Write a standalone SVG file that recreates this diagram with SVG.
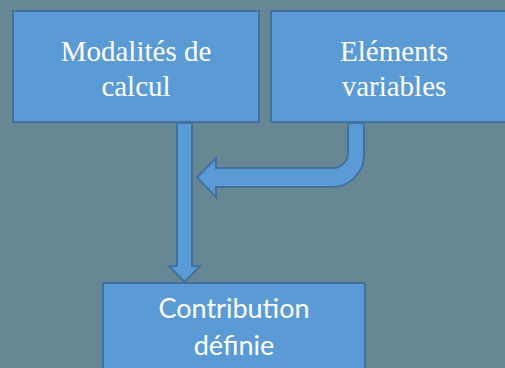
<svg xmlns="http://www.w3.org/2000/svg" width="505" height="368" viewBox="0 0 505 368">
<style>
.box{fill:#5b9bd5;stroke:#41719c;stroke-width:2}
.arr{fill:#5b9bd5;stroke:#41719c;stroke-width:2;stroke-linejoin:miter}
.tserif{font-family:'Liberation Serif','Times New Roman',serif;font-size:29px;fill:#ffffff;text-anchor:middle}
.tsans{font-family:Lato,'Open Sans','Liberation Sans',sans-serif;font-size:27px;fill:#ffffff;text-anchor:middle}
</style>
<rect width="505" height="368" fill="#688794"/>
<g id="connectors">
<path class="arr" d="M177,123 L192,123 L192,266 L200,266 L184.5,282 L169,266 L177,266 Z"/>
<path class="arr" d="M348,123 L364,123 L364,155 A32,32 0 0 1 332,187 L216,187 L216,197 L197,177.5 L216,158 L216,168 L333,168 A15,15 0 0 0 348,153 Z"/>
</g>
<g id="node-modalites">
<rect class="box" x="13" y="11" width="246" height="111"/>
<text class="tserif" x="136" y="61">Modalités de</text>
<text class="tserif" x="136" y="96">calcul</text>
</g>
<g id="node-elements">
<rect class="box" x="271" y="11" width="246" height="111"/>
<text class="tserif" x="394" y="61">Eléments</text>
<text class="tserif" x="394" y="96">variables</text>
</g>
<g id="node-contribution">
<rect class="box" x="103" y="283" width="262" height="100"/>
<text class="tsans" x="234" y="318">Contribution</text>
<text class="tsans" x="234" y="355">définie</text>
</g>
</svg>
